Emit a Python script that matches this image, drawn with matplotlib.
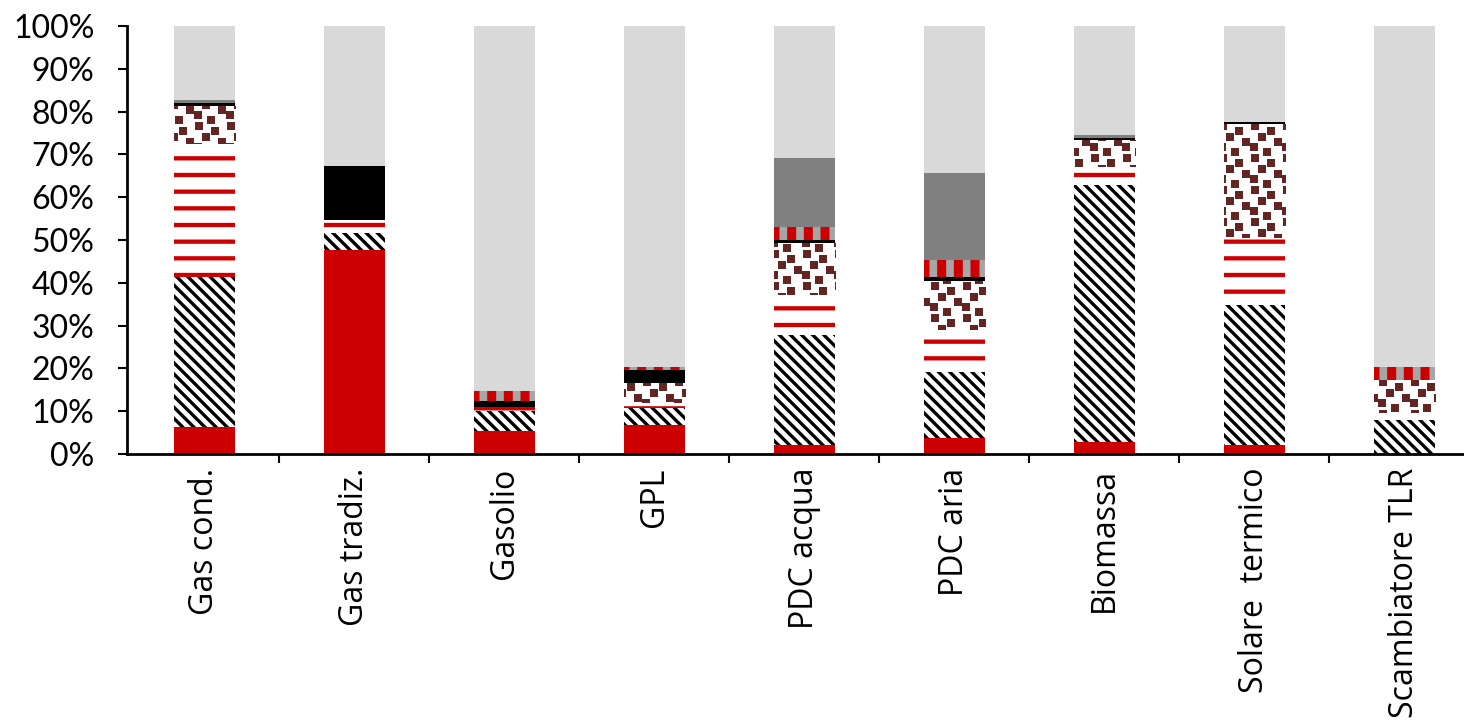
import numpy as np
import matplotlib
matplotlib.use("Agg")
import matplotlib.pyplot as plt
from matplotlib.ticker import FixedLocator, PercentFormatter

plt.rcParams['font.family'] = ['Lato', 'DejaVu Sans']

# Dati (percentuali, dal basso verso l'alto)
categorie = ["Gas cond.", "Gas tradiz.", "Gasolio", "GPL", "PDC acqua",
             "PDC aria", "Biomassa", "Solare  termico", "Scambiatore TLR"]
rosso_pieno = [6.2, 47.6, 5.4, 6.8, 2.1, 3.7, 2.8, 2.1, 0.0]
diagonale = [35.2, 4.0, 4.6, 3.9, 25.7, 15.5, 60.1, 32.7, 7.9]
righe_rosse = [31.1, 3.1, 1.0, 1.3, 9.4, 9.8, 4.2, 15.7, 1.7]
quadretti = [8.7, 0.0, 0.0, 4.6, 12.1, 11.4, 6.3, 26.6, 7.7]
nero = [0.7, 12.7, 1.4, 3.0, 0.7, 1.0, 0.5, 0.5, 0.0]
strisce = [0.0, 0.0, 2.3, 0.7, 3.0, 3.9, 0.0, 0.0, 3.0]
grigio = [0.7, 0.0, 0.0, 0.0, 16.2, 20.4, 0.7, 0.0, 0.0]
serie = [rosso_pieno, diagonale, righe_rosse, quadretti, nero, strisce, grigio]
resto = [100 - sum(v) for v in zip(*serie)]

ROSSO = '#cc0000'
BACKSLASH = chr(92)

W, H = 1464, 728
fig = plt.figure(figsize=(W / 100, H / 100), dpi=100)
ax_l, ax_b, ax_w, ax_h = 127, 274, W - 127, 428
ax = fig.add_axes([ax_l / W, ax_b / H, ax_w / W, ax_h / H])
x = np.arange(len(categorie))
larghezza = 0.41


def imposta_hatch_lw(bars, lw):
    for b in bars:
        if hasattr(b, 'set_hatch_linewidth'):
            b.set_hatch_linewidth(lw)


def texture_quadretti():
    # "coriandoli grandi": quadratini marroni su bianco
    n = 32
    tile = np.ones((n, n, 3))
    col = np.array([0x63, 0x25, 0x23]) / 255
    for (r, c) in [(0, 3), (5, 19), (11, 10), (16, 26), (21, 2), (26, 15)]:
        for dr in range(8):
            for dc in range(8):
                tile[(r + dr) % n, (c + dc) % n] = col
    reps = (ax_h // n + 2, ax_w // n + 2, 1)
    return np.tile(tile, reps)[:ax_h, :ax_w]


base = np.zeros(len(categorie))

# rosso pieno
ax.bar(x, rosso_pieno, larghezza, bottom=base, color=ROSSO, linewidth=0)
base += rosso_pieno

# diagonale nero/bianco
with plt.rc_context({'hatch.linewidth': 2.4}):
    b = ax.bar(x, diagonale, larghezza, bottom=base, facecolor='white',
               edgecolor='black', hatch=BACKSLASH * 3, linewidth=0)
imposta_hatch_lw(b, 2.4)
base += diagonale

# righe rosse orizzontali
with plt.rc_context({'hatch.linewidth': 3.1}):
    b = ax.bar(x, righe_rosse, larghezza, bottom=base, facecolor='white',
               edgecolor=ROSSO, hatch='-', linewidth=0)
imposta_hatch_lw(b, 3.1)
base += righe_rosse

# quadretti marroni
b = ax.bar(x, quadretti, larghezza, bottom=base, facecolor='white', linewidth=0)
tex = texture_quadretti()
for patch in b:
    if patch.get_height() <= 0:
        continue
    im = ax.imshow(tex, extent=(0, 1, 0, 1), transform=ax.transAxes,
                   interpolation='nearest', aspect='auto', zorder=patch.get_zorder())
    im.set_clip_path(patch)
base += quadretti

# nero
ax.bar(x, nero, larghezza, bottom=base, color='black', linewidth=0)
base += nero

# strisce verticali rosso/grigio
with plt.rc_context({'hatch.linewidth': 6.5}):
    b = ax.bar(x, strisce, larghezza, bottom=base, facecolor='#a6a6a6',
               edgecolor=ROSSO, hatch='|', linewidth=0)
imposta_hatch_lw(b, 6.5)
base += strisce

# grigio scuro
ax.bar(x, grigio, larghezza, bottom=base, color='#808080', linewidth=0)
base += grigio

# grigio chiaro (resto fino al 100%)
ax.bar(x, resto, larghezza, bottom=base, color='#d9d9d9', linewidth=0)

ax.set_xlim(-0.515, -0.515 + ax_w / 150)
ax.set_ylim(0, 100)
ax.set_yticks(np.arange(0, 101, 10))
ax.yaxis.set_major_formatter(PercentFormatter(decimals=0))
ax.set_xticks(x)
ax.set_xticklabels(categorie, rotation=90, ha='center', va='top',
                   family=['Open Sans', 'DejaVu Sans'], fontsize=23)
ax.xaxis.set_minor_locator(FixedLocator(x[:-1] + 0.5))
ax.tick_params(axis='x', which='major', length=0, pad=10)
ax.tick_params(axis='x', which='minor', length=6.5, width=1.5, direction='out')
ax.tick_params(axis='y', length=6.5, width=1.5, direction='out', labelsize=23, pad=17)

for lato in ['top', 'right']:
    ax.spines[lato].set_visible(False)
for lato in ['left', 'bottom']:
    ax.spines[lato].set_linewidth(2)
    ax.spines[lato].set_zorder(5)

fig.savefig('out.png', dpi=100)
